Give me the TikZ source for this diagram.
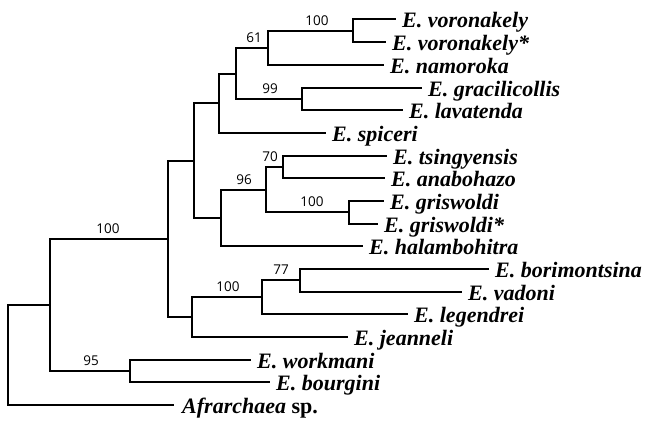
\documentclass[tikz,border=0pt]{standalone}
\usepackage{fontspec}
\setmainfont{Liberation Serif}
\newfontfamily\bsfont{Open Sans}
\begin{document}
\begin{tikzpicture}[x=1pt,y=-1pt,
  branch/.style={line width=2pt, line cap=rect},
  leaf/.style={anchor=base west, inner sep=0pt, font=\fontsize{22}{25}\selectfont\bfseries\itshape},
  boot/.style={anchor=base, inner sep=0pt, font=\fontsize{13.5}{15}\selectfont\bsfont}]
\useasboundingbox (0,0) rectangle (652,421);
% leaf ends
\coordinate (l0) at (395,19);
\coordinate (l1) at (385,42);
\coordinate (l2) at (383,65);
\coordinate (l3) at (421,88);
\coordinate (l4) at (402,110);
\coordinate (l5) at (325,133);
\coordinate (l6) at (386,156);
\coordinate (l7) at (384,178);
\coordinate (l8) at (383,201);
\coordinate (l9) at (377,224);
\coordinate (l10) at (362,246);
\coordinate (l11) at (488,269);
\coordinate (l12) at (461,292);
\coordinate (l13) at (407,314);
\coordinate (l14) at (347,337);
\coordinate (l15) at (250,360);
\coordinate (l16) at (269,382);
\coordinate (l17) at (173,405);
% internal nodes
\coordinate (nA) at (353,31);
\coordinate (nB) at (268,48);
\coordinate (nC) at (302,99);
\coordinate (nD) at (236,74);
\coordinate (nE) at (219,103);
\coordinate (nF) at (283,167);
\coordinate (nG) at (349,212);
\coordinate (nH) at (266,190);
\coordinate (nI) at (221,218);
\coordinate (nJ) at (194,161);
\coordinate (nK) at (300,280);
\coordinate (nL) at (262,297);
\coordinate (nM) at (192,317);
\coordinate (nN) at (168,239);
\coordinate (nO) at (130,371);
\coordinate (nP) at (50,305);
\coordinate (root) at (8,355);
% branches
\draw[branch] (nA) |- (l0);
\draw[branch] (nA) |- (l1);
\draw[branch] (nB) |- (nA);
\draw[branch] (nB) |- (l2);
\draw[branch] (nC) |- (l3);
\draw[branch] (nC) |- (l4);
\draw[branch] (nD) |- (nB);
\draw[branch] (nD) |- (nC);
\draw[branch] (nE) |- (nD);
\draw[branch] (nE) |- (l5);
\draw[branch] (nF) |- (l6);
\draw[branch] (nF) |- (l7);
\draw[branch] (nG) |- (l8);
\draw[branch] (nG) |- (l9);
\draw[branch] (nH) |- (nF);
\draw[branch] (nH) |- (nG);
\draw[branch] (nI) |- (nH);
\draw[branch] (nI) |- (l10);
\draw[branch] (nJ) |- (nE);
\draw[branch] (nJ) |- (nI);
\draw[branch] (nK) |- (l11);
\draw[branch] (nK) |- (l12);
\draw[branch] (nL) |- (nK);
\draw[branch] (nL) |- (l13);
\draw[branch] (nM) |- (nL);
\draw[branch] (nM) |- (l14);
\draw[branch] (nN) |- (nJ);
\draw[branch] (nN) |- (nM);
\draw[branch] (nO) |- (l15);
\draw[branch] (nO) |- (l16);
\draw[branch] (nP) |- (nN);
\draw[branch] (nP) |- (nO);
\draw[branch] (root) |- (nP);
\draw[branch] (root) |- (l17);
% leaf labels
\node[leaf] (t0) at ([xshift=7pt,yshift=-8.5pt]l0) {E. voronakely};
\node[leaf] (t1) at ([xshift=7pt,yshift=-8.5pt]l1) {E. voronakely*};
\node[leaf] (t2) at ([xshift=7pt,yshift=-8.5pt]l2) {E. namoroka};
\node[leaf] (t3) at ([xshift=7pt,yshift=-8.5pt]l3) {E. gracilicollis};
\node[leaf] (t4) at ([xshift=7pt,yshift=-8.5pt]l4) {E. lavatenda};
\node[leaf] (t5) at ([xshift=7pt,yshift=-8.5pt]l5) {E. spiceri};
\node[leaf] (t6) at ([xshift=7pt,yshift=-8.5pt]l6) {E. tsingyensis};
\node[leaf] (t7) at ([xshift=7pt,yshift=-8.5pt]l7) {E. anabohazo};
\node[leaf] (t8) at ([xshift=7pt,yshift=-8.5pt]l8) {E. griswoldi};
\node[leaf] (t9) at ([xshift=7pt,yshift=-8.5pt]l9) {E. griswoldi*};
\node[leaf] (t10) at ([xshift=7pt,yshift=-8.5pt]l10) {E. halambohitra};
\node[leaf] (t11) at ([xshift=7pt,yshift=-8.5pt]l11) {E. borimontsina};
\node[leaf] (t12) at ([xshift=7pt,yshift=-8.5pt]l12) {E. vadoni};
\node[leaf] (t13) at ([xshift=7pt,yshift=-8.5pt]l13) {E. legendrei};
\node[leaf] (t14) at ([xshift=7pt,yshift=-8.5pt]l14) {E. jeanneli};
\node[leaf] (t15) at ([xshift=7pt,yshift=-8.5pt]l15) {E. workmani};
\node[leaf] (t16) at ([xshift=7pt,yshift=-8.5pt]l16) {E. bourgini};
\node[leaf] (t17) at ([xshift=9pt,yshift=-8.5pt]l17) {Afrarchaea\/ \upshape sp.};
% bootstrap values
\node[boot] (b1) at (317,25) {100};
\node[boot] (b2) at (254,42) {61};
\node[boot] (b3) at (270,93) {99};
\node[boot] (b4) at (270,161) {70};
\node[boot] (b5) at (244,184) {96};
\node[boot] (b6) at (312,206) {100};
\node[boot] (b7) at (281,274) {77};
\node[boot] (b8) at (228,291) {100};
\node[boot] (b9) at (108,233) {100};
\node[boot] (b10) at (91,365) {95};
\end{tikzpicture}
\end{document}
